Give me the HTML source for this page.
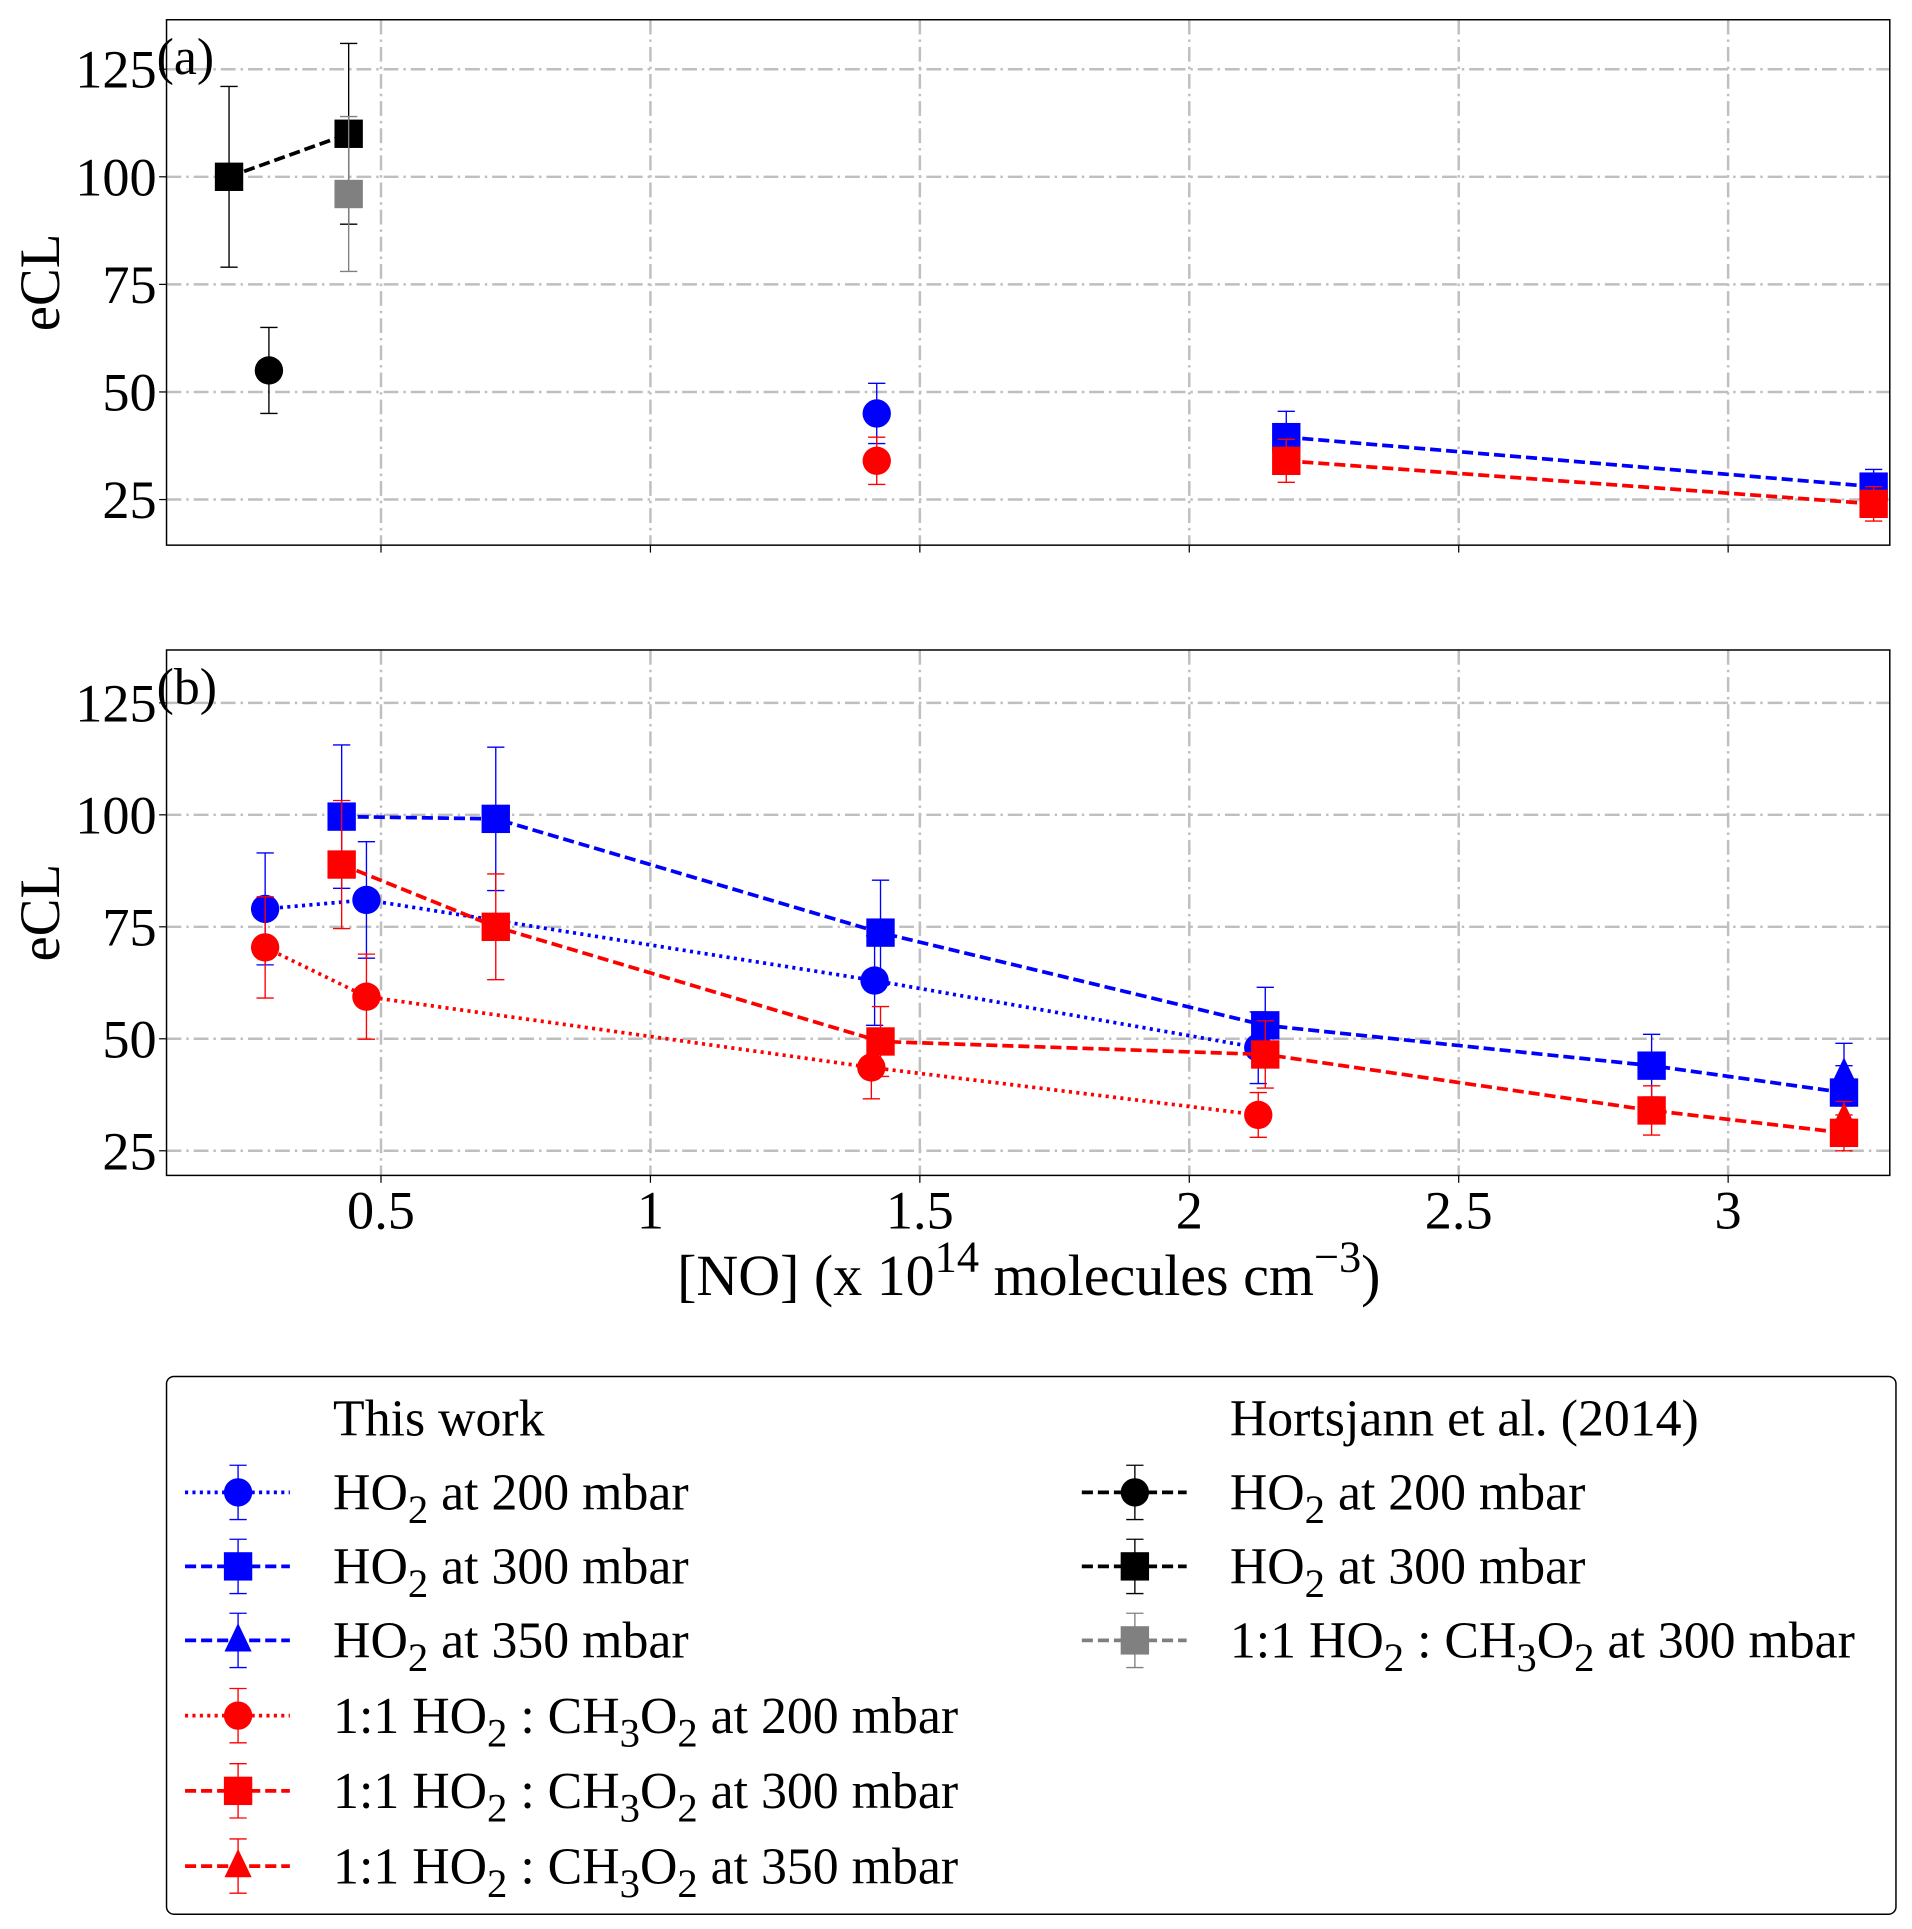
<!DOCTYPE html>
<html><head><meta charset="utf-8">
<style>
html,body{margin:0;padding:0;background:#fff;}
svg{display:block;font-family:"Liberation Serif","DejaVu Serif",serif;}
</style></head>
<body>
<svg id="chart" width="1912" height="1929" viewBox="0 0 1550 1564" preserveAspectRatio="none" xmlns="http://www.w3.org/2000/svg">
<g id="grid"></g>
<g id="marks"></g>
<g id="axes"></g>
<g id="legend"></g>
</svg>
<script>
// ---- data ----
const xTicks = [0.5, 1, 1.5, 2, 2.5, 3];
const xTickLabels = ["0.5", "1", "1.5", "2", "2.5", "3"];
const yTicks = [25, 50, 75, 100, 125];
const yTickLabels = ["25", "50", "75", "100", "125"];

// panel (a)
const aH200x = [0.292];           const aH200y = [55];  const aH200e = [10];
const aH300x = [0.218, 0.44];     const aH300y = [100, 110]; const aH300e = [21, 21];
const aMixGx = [0.44];            const aMixGy = [96];  const aMixGe = [18];
const aBlueCx = [1.42];           const aBlueCy = [45]; const aBlueCe = [7];
const aRedCx = [1.42];            const aRedCy = [34];  const aRedCe = [5.5];
const aBlueSx = [2.18, 3.27];     const aBlueSy = [39.5, 28]; const aBlueSe = [6, 4];
const aRedSx = [2.18, 3.27];      const aRedSy = [34, 24]; const aRedSe = [5, 4];

// panel (b)
const bBlueCx = [0.285, 0.473, 1.416, 2.128]; const bBlueCy = [79, 81, 63, 48]; const bBlueCe = [12.5, 13, 10, 8];
const bBlueSx = [0.427, 0.713, 1.427, 2.141, 2.858, 3.215]; const bBlueSy = [99.6, 99.1, 73.7, 53, 44, 38]; const bBlueSe = [16, 16, 11.7, 8.5, 7, 6];
const bBlueTx = [3.215]; const bBlueTy = [42]; const bBlueTe = [7];
const bRedCx = [0.285, 0.473, 1.41, 2.128]; const bRedCy = [70.4, 59.4, 43.6, 33]; const bRedCe = [11.3, 9.5, 7, 5];
const bRedSx = [0.427, 0.713, 1.427, 2.141, 2.858, 3.215]; const bRedSy = [88.9, 75, 49.4, 46.5, 34, 29]; const bRedSe = [14.3, 11.8, 7.8, 7.5, 5.5, 4];
const bRedTx = [3.215]; const bRedTy = [32]; const bRedTe = [4];

// ---- layout (viewBox units) ----
const NS = "http://www.w3.org/2000/svg";
const L = 135, R = 1532;
const xMin = 0.102, xMax = 3.30;
const panels = {
  a: {top: 16, bot: 442, yMin: 14.4, yMax: 136.5},
  b: {top: 527, bot: 953, yMin: 19.5, yMax: 136.8}
};
function xs(v){ return L + (v - xMin) / (xMax - xMin) * (R - L); }
function ysF(p){ return v => p.bot - (v - p.yMin) / (p.yMax - p.yMin) * (p.bot - p.top); }
function mk(tag, attrs, parent){
  const e = document.createElementNS(NS, tag);
  for (const k in attrs) e.setAttribute(k, attrs[k]);
  parent.appendChild(e); return e;
}
const gGrid = document.getElementById('grid'), gMarks = document.getElementById('marks'),
      gAxes = document.getElementById('axes'), gLeg = document.getElementById('legend');

function drawPanel(key, label, showX){
  const p = panels[key], ys = ysF(p);
  xTicks.forEach((t,i)=>{
    const gl = mk('line',{x1:xs(t),x2:xs(t),y1:p.top,y2:p.bot,stroke:'#bfbfbf','stroke-width':2,'stroke-dasharray':'12,4,2,4'},gGrid);
    
    
    mk('line',{x1:xs(t),x2:xs(t),y1:p.bot,y2:p.bot+6,stroke:'#000','stroke-width':1},gAxes);
    if (showX){
      const tx = mk('text',{x:xs(t),y:p.bot+43,'font-size':44,'text-anchor':'middle'},gAxes);
      tx.textContent = xTickLabels[i];
      
      
    }
  });
  yTicks.forEach((t,i)=>{
    const gl = mk('line',{x1:L,x2:R,y1:ys(t),y2:ys(t),stroke:'#bfbfbf','stroke-width':2,'stroke-dasharray':'12,4,2,4'},gGrid);
    
    
    mk('line',{x1:L-6,x2:L,y1:ys(t),y2:ys(t),stroke:'#000','stroke-width':1},gAxes);
    const tx = mk('text',{x:L-8,y:ys(t)+15,'font-size':44,'text-anchor':'end'},gAxes);
    tx.textContent = yTickLabels[i];
    
    
  });
  const fr = mk('rect',{x:L,y:p.top,width:R-L,height:p.bot-p.top,fill:'none',stroke:'#000','stroke-width':1.2},gAxes);
  
  
  const lb = mk('text',{x:127,y:p.top+44,'font-size':42},gAxes);
  lb.textContent = label;
  
  
  const yl = mk('text',{x:0,y:0,'font-size':46,'text-anchor':'middle',transform:`translate(48,${(p.top+p.bot)/2}) rotate(-90)`},gAxes);
  yl.textContent = 'eCL';
  
  
}

function marker(shape, cx, cy, color, parent, name){
  let e;
  if (shape==='o') e = mk('ellipse',{cx:cx,cy:cy,rx:11.5,ry:11.5,fill:color},parent);
  else if (shape==='s') e = mk('rect',{x:cx-11.5,y:cy-11.5,width:23,height:23,fill:color},parent);
  else e = mk('polygon',{points:`${cx},${cy-14} ${cx-11},${cy+9} ${cx+11},${cy+9}`,fill:color},parent);
  
  
  return e;
}
const dashes = {dash:'9,4', dot:'2.5,3.5', none:''};
function series(key, xsArr, ysArr, es, color, shape, ls, name){
  const ys = ysF(panels[key]);
  const g = mk('g',{},gMarks);
  
  
  xsArr.forEach((x,i)=>{
    const X = xs(x), top = ys(ysArr[i]+es[i]), bot = ys(ysArr[i]-es[i]);
    mk('line',{x1:X,x2:X,y1:top,y2:bot,stroke:color,'stroke-width':1.1},g);
    mk('line',{x1:X-7,x2:X+7,y1:top,y2:top,stroke:color,'stroke-width':1.1},g);
    mk('line',{x1:X-7,x2:X+7,y1:bot,y2:bot,stroke:color,'stroke-width':1.1},g);
  });
  if (ls!=='none' && xsArr.length>1){
    const pts = xsArr.map((x,i)=>xs(x)+','+ys(ysArr[i])).join(' ');
    mk('polyline',{points:pts,fill:'none',stroke:color,'stroke-width':3,'stroke-dasharray':dashes[ls]},g);
  }
  xsArr.forEach((x,i)=>marker(shape, xs(x), ys(ysArr[i]), color, g, name+'-point'));
}

drawPanel('a','(a)',false);
drawPanel('b','(b)',true);

series('a', aH200x, aH200y, aH200e, '#000', 'o', 'dash', 'hortsjann-ho2-200');
series('a', aH300x, aH300y, aH300e, '#000', 's', 'dash', 'hortsjann-ho2-300');
series('a', aMixGx, aMixGy, aMixGe, '#808080', 's', 'dash', 'hortsjann-mix-300');
series('a', aBlueCx, aBlueCy, aBlueCe, '#0000ff', 'o', 'dot', 'a-ho2-200');
series('a', aRedCx, aRedCy, aRedCe, '#ff0000', 'o', 'dot', 'a-mix-200');
series('a', aBlueSx, aBlueSy, aBlueSe, '#0000ff', 's', 'dash', 'a-ho2-300');
series('a', aRedSx, aRedSy, aRedSe, '#ff0000', 's', 'dash', 'a-mix-300');

series('b', bBlueCx, bBlueCy, bBlueCe, '#0000ff', 'o', 'dot', 'b-ho2-200');
series('b', bRedCx, bRedCy, bRedCe, '#ff0000', 'o', 'dot', 'b-mix-200');
series('b', bBlueSx, bBlueSy, bBlueSe, '#0000ff', 's', 'dash', 'b-ho2-300');
series('b', bRedSx, bRedSy, bRedSe, '#ff0000', 's', 'dash', 'b-mix-300');
series('b', bBlueTx, bBlueTy, bBlueTe, '#0000ff', '^', 'dash', 'b-ho2-350');
series('b', bRedTx, bRedTy, bRedTe, '#ff0000', '^', 'dash', 'b-mix-350');

// x axis title
const xt = mk('text',{x:834,y:1050,'font-size':47,'text-anchor':'middle'},gAxes);
xt.innerHTML = '[NO] (x 10<tspan dy="-19" font-size="36">14</tspan><tspan dy="19"> molecules cm</tspan><tspan dy="-19" font-size="36">−3</tspan><tspan dy="19">)</tspan>';



// legend
const lbox = mk('rect',{x:135,y:1116,width:1402,height:436,rx:6,fill:'#fff',stroke:'#000','stroke-width':1.2},gLeg);


const S = (d)=>'<tspan dy="11" font-size="33">'+d+'</tspan><tspan dy="-11">';
const sub2 = S('2') + ' </tspan>';
const mix = '1:1 HO' + S('2') + ' : CH</tspan>' + S('3') + 'O</tspan>' + S('2') + ' at </tspan>';
const legendItems = [
  {x:150, y:1150, header:'This work'},
  {x:150, y:1210, c:'#0000ff', s:'o', ls:'dot', t:'HO'+sub2+'<tspan>at 200 mbar</tspan>'},
  {x:150, y:1270, c:'#0000ff', s:'s', ls:'dash', t:'HO'+sub2+'<tspan>at 300 mbar</tspan>'},
  {x:150, y:1330, c:'#0000ff', s:'^', ls:'dash', t:'HO'+sub2+'<tspan>at 350 mbar</tspan>'},
  {x:150, y:1391, c:'#ff0000', s:'o', ls:'dot', t:mix+'<tspan>200 mbar</tspan>'},
  {x:150, y:1452, c:'#ff0000', s:'s', ls:'dash', t:mix+'<tspan>300 mbar</tspan>'},
  {x:150, y:1513, c:'#ff0000', s:'^', ls:'dash', t:mix+'<tspan>350 mbar</tspan>'},
  {x:877, y:1150, header:'Hortsjann et al.  (2014)'},
  {x:877, y:1210, c:'#000', s:'o', ls:'dash', t:'HO'+sub2+'<tspan>at 200 mbar</tspan>'},
  {x:877, y:1270, c:'#000', s:'s', ls:'dash', t:'HO'+sub2+'<tspan>at 300 mbar</tspan>'},
  {x:877, y:1330, c:'#808080', s:'s', ls:'dash', t:mix+'<tspan>300 mbar</tspan>'}
];
legendItems.forEach(it=>{
  const g = mk('g',{},gLeg);
  
  
  if (!it.header){
    const mx = it.x+43;
    mk('line',{x1:it.x,x2:it.x+85,y1:it.y,y2:it.y,stroke:it.c,'stroke-width':3,'stroke-dasharray':dashes[it.ls]},g);
    mk('line',{x1:mx,x2:mx,y1:it.y-22,y2:it.y+22,stroke:it.c,'stroke-width':1.1},g);
    mk('line',{x1:mx-7,x2:mx+7,y1:it.y-22,y2:it.y-22,stroke:it.c,'stroke-width':1.1},g);
    mk('line',{x1:mx-7,x2:mx+7,y1:it.y+22,y2:it.y+22,stroke:it.c,'stroke-width':1.1},g);
    marker(it.s, mx, it.y, it.c, g, 'legend-marker');
  }
  const t = mk('text',{x:it.x+120,y:it.y+14,'font-size':42},g);
  t.setAttribute('xml:space','preserve');
  if (it.header) t.textContent = it.header; else t.innerHTML = it.t;
});
</script>
</body></html>
